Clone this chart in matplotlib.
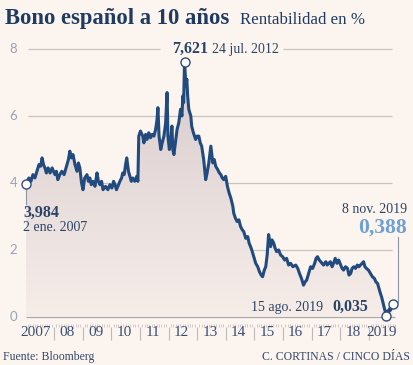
import numpy as np
import matplotlib
matplotlib.use("Agg")
import matplotlib.pyplot as plt
from matplotlib.colors import LinearSegmentedColormap

# ---------------- data (decimal years, yield %) ----------------
years = [2007.00, 2007.06, 2007.12, 2007.19, 2007.26, 2007.33, 2007.40, 2007.47, 2007.53,
         2007.58, 2007.63, 2007.68, 2007.73, 2007.79, 2007.86, 2007.93,
         2008.03, 2008.08, 2008.13, 2008.20, 2008.27, 2008.35, 2008.45, 2008.50,
         2008.55, 2008.60, 2008.66, 2008.73, 2008.80, 2008.85, 2008.90, 2008.96,
         2009.01, 2009.07, 2009.15, 2009.20, 2009.25, 2009.30, 2009.36, 2009.43,
         2009.50, 2009.55, 2009.60, 2009.66, 2009.71, 2009.80, 2009.88, 2009.95,
         2010.02, 2010.08, 2010.13, 2010.18, 2010.23, 2010.30, 2010.36, 2010.40,
         2010.45, 2010.50, 2010.54, 2010.60, 2010.65, 2010.70, 2010.75, 2010.82,
         2010.89, 2010.93, 2010.96, 2011.02, 2011.10, 2011.14, 2011.20, 2011.25,
         2011.31, 2011.37, 2011.43, 2011.49, 2011.55, 2011.60, 2011.63, 2011.67,
         2011.73, 2011.78, 2011.84, 2011.90, 2011.95, 2011.98, 2012.03, 2012.08,
         2012.12, 2012.15, 2012.19, 2012.24, 2012.30, 2012.36, 2012.42, 2012.47,
         2012.50, 2012.53, 2012.56, 2012.61, 2012.64, 2012.67, 2012.71, 2012.78,
         2012.81, 2012.87, 2012.95, 2013.00, 2013.06, 2013.11, 2013.16, 2013.23,
         2013.30, 2013.35, 2013.41, 2013.48, 2013.55, 2013.60, 2013.65, 2013.72,
         2013.78, 2013.83, 2013.88, 2013.93, 2014.00, 2014.06, 2014.12, 2014.18,
         2014.25, 2014.28, 2014.34, 2014.40, 2014.46, 2014.52, 2014.58, 2014.63,
         2014.70, 2014.77, 2014.82, 2014.87, 2014.93, 2014.98, 2015.05, 2015.12,
         2015.18, 2015.24, 2015.29, 2015.35, 2015.40, 2015.45, 2015.50, 2015.57,
         2015.62, 2015.68, 2015.73, 2015.78, 2015.85, 2015.92, 2015.99, 2016.06,
         2016.13, 2016.20, 2016.27, 2016.35, 2016.45, 2016.52, 2016.58, 2016.65,
         2016.72, 2016.78, 2016.83, 2016.90, 2016.97, 2017.04, 2017.11, 2017.16,
         2017.21, 2017.27, 2017.32, 2017.37, 2017.42, 2017.50, 2017.55, 2017.60,
         2017.66, 2017.72, 2017.77, 2017.83, 2017.89, 2017.95, 2018.02, 2018.07,
         2018.12, 2018.19, 2018.26, 2018.31, 2018.37, 2018.42, 2018.48, 2018.54,
         2018.60, 2018.66, 2018.71, 2018.77, 2018.82, 2018.87, 2018.92, 2018.99,
         2019.06, 2019.13, 2019.20, 2019.25, 2019.31, 2019.36, 2019.41, 2019.45,
         2019.48, 2019.52, 2019.55, 2019.58, 2019.62, 2019.66, 2019.69, 2019.73,
         2019.76, 2019.81, 2019.855]
values = [3.984, 4.05, 4.15, 4.05, 4.25, 4.15, 4.35, 4.55, 4.50,
          4.75, 4.55, 4.45, 4.30, 4.45, 4.30, 4.45,
          4.25, 4.35, 4.10, 4.25, 4.35, 4.25, 4.55, 4.70,
          4.95, 4.75, 4.85, 4.55, 4.35, 4.60, 4.45, 4.00,
          3.80, 4.15, 4.25, 4.05, 4.15, 3.95, 4.05, 3.90,
          4.30, 4.05, 3.95, 4.05, 3.80, 3.90, 3.80, 3.95,
          3.85, 4.05, 3.95, 3.80, 3.90, 4.05, 4.15, 4.30,
          4.25, 4.55, 4.75, 4.35, 4.20, 4.05, 4.15, 4.05,
          4.20, 4.05, 5.40, 5.55, 5.40, 5.20, 5.45, 5.30,
          5.50, 5.35, 5.45, 5.40, 5.60, 5.90, 6.25, 5.40,
          5.00, 5.20, 5.40, 5.80, 6.70, 5.40, 5.00, 5.30,
          5.70, 5.00, 4.85, 5.20, 5.60, 5.80, 6.20, 6.00,
          6.60, 6.40, 7.621, 6.90, 7.10, 6.60, 6.20, 6.00,
          5.70, 5.50, 5.30, 5.40, 5.40, 5.20, 5.10, 4.70,
          4.10, 4.30, 4.60, 5.10, 4.60, 4.70, 4.50, 4.40,
          4.30, 4.25, 4.15, 4.10, 4.20, 3.90, 3.70, 3.55,
          3.30, 3.10, 2.95, 2.85, 2.90, 2.70, 2.60, 2.55,
          2.35, 2.40, 2.20, 2.10, 1.95, 1.80, 1.60, 1.50,
          1.35, 1.25, 1.20, 1.40, 1.50, 1.85, 2.46, 2.10,
          2.30, 2.20, 2.05, 1.95, 2.00, 1.85, 1.80, 1.70,
          1.75, 1.55, 1.60, 1.50, 1.55, 1.45, 1.30, 1.15,
          0.95, 1.05, 1.10, 1.30, 1.50, 1.45, 1.60, 1.75,
          1.80, 1.70, 1.65, 1.60, 1.55, 1.65, 1.55, 1.60,
          1.65, 1.50, 1.60, 1.75, 1.60, 1.70, 1.55, 1.45,
          1.40, 1.50, 1.45, 1.25, 1.30, 1.45, 1.50, 1.45,
          1.55, 1.50, 1.55, 1.60, 1.65, 1.50, 1.45, 1.40,
          1.30, 1.20, 1.15, 1.05, 1.00, 0.85, 0.70, 0.60,
          0.50, 0.35, 0.25, 0.16, 0.035, 0.18, 0.10, 0.25,
          0.20, 0.30, 0.388]

year_labels = ["2007", "08", "09", "10", "11", "12", "13", "14", "15",
               "16", "17", "18", "2019"]
y_ticks = [0, 2, 4, 6, 8]

first_lbl = ("3,984", "2 ene. 2007")
peak_lbl = ("7,621", "24 jul. 2012")
min_lbl = ("0,035", "15 ago. 2019")
last_lbl = ("0,388", "8 nov. 2019")

# ---------------- style ----------------
BG = "#fcf4ee"
NAVY = "#1f3b62"
LINE = "#214a7e"
GRID = "#c9c3c3"
TICKC = "#96a4b8"
LIGHTBLUE = "#6f9fd3"
SERIF = ["Liberation Serif", "DejaVu Serif"]

W, H = 414, 365
fig = plt.figure(figsize=(W / 100, H / 100), dpi=100, facecolor=BG)

YEARPX = 28.6
x0px = 25.5
x1px = x0px + 13 * YEARPX
ypx_bot, ypx_top = 327.0, 39.0
ax = fig.add_axes([x0px / W, 1 - ypx_bot / H, (x1px - x0px) / W, (ypx_bot - ypx_top) / H])
ax.set_facecolor(BG)
ax.patch.set_alpha(0)
ax.set_xlim(2007, 2020)
ax.set_ylim(-0.3, 8.3)
for s in ax.spines.values():
    s.set_visible(False)

# gridlines
for yv in [2, 4, 6]:
    ax.hlines(yv, 2007.08, 2019.8, color=GRID, lw=0.9, zorder=1)
ax.hlines(8, 2007.08, 2011.7, color=GRID, lw=0.9, zorder=1)
ax.hlines(8, 2016.0, 2019.8, color=GRID, lw=0.9, zorder=1)
ax.hlines(0, 2007.0, 2019.92, color="#a9a6aa", lw=0.9, zorder=1)

# gradient fill under the line
xs = np.array(years)
ys = np.array(values)
poly = ax.fill_between(xs, ys, 0, color="none", lw=0)
cmap = LinearSegmentedColormap.from_list("g", ["#f6ede9", "#d6cacb"])
grad = np.linspace(0, 1, 256).reshape(-1, 1)
im = ax.imshow(grad, extent=[2007, 2020, 0, 8], origin="lower", cmap=cmap,
               aspect="auto", zorder=2)
im.set_clip_path(poly.get_paths()[0], transform=ax.transData)

ax.plot(xs, ys, color=LINE, lw=2.2, zorder=4, solid_joinstyle="round", clip_on=False)

# ticks
ax.set_yticks([])
ax.set_xticks(np.arange(2008, 2020), minor=False)
ax.set_xticklabels([])
ax.tick_params(axis="x", which="major", direction="out", length=9, width=0.8,
               color="#bdb9bb")
months = [2007 + i / 12 for i in range(1, 12 * 13) if i % 12 != 0]
ax.set_xticks(months, minor=True)
ax.tick_params(axis="x", which="minor", direction="in", length=2.5, width=0.5,
               color="#bdb9bb")

for i, lab in enumerate(year_labels):
    xoff = -0.1 if i == 0 else 0.0
    ax.text(2007.45 + i + xoff, -0.3 - 6 / 33.5, lab, ha="center", va="center",
            fontsize=11, family=SERIF, color="#3a5072")
for yv in y_ticks:
    ax.text(2007 - 12 / YEARPX, yv, str(yv), ha="center", va="center",
            fontsize=9.5, family=["Lato", "DejaVu Sans"], color=TICKC)

# markers
mk = dict(marker="o", ms=6.5, mfc="white", mec="#2f4f7a", mew=1.0, zorder=6,
          ls="none", clip_on=False)
ax.plot([years[0]], [values[0]], **mk)
ipk = values.index(max(values))
ax.plot([years[ipk]], [values[ipk]], **mk)
imin = values.index(min(values))
ax.plot([years[imin]], [values[imin]], **mk)
ax.plot([years[-1]], [values[-1]], **mk)

# connectors
ax.plot([years[0], years[0]], [values[0] - 0.12, values[0] - 0.6], color="#8b97a8",
        lw=0.8, zorder=3, clip_on=False)
xc = years[-1] + 0.17
ax.plot([xc, xc], [values[-1] + 0.05, 2.4], color="#8b97a8", lw=0.8, zorder=3,
        clip_on=False)

def px(xp, yp):
    return xp / W, 1 - yp / H

# titles
fig.text(*px(5, 24), "Bono español a 10 años", fontsize=16.3, fontweight="bold",
         family=SERIF, color=NAVY, va="baseline")
fig.text(*px(240, 24), "Rentabilidad en %", fontsize=12.2, family=SERIF,
         color=NAVY, va="baseline")

# annotations
TXT = "#2a4468"
fig.text(*px(23, 217), first_lbl[0], fontsize=11.5, fontweight="bold", family=SERIF,
         color=TXT, va="baseline")
fig.text(*px(23, 231), first_lbl[1], fontsize=10, family=SERIF,
         color=TXT, va="baseline")
fig.text(*px(208, 53), peak_lbl[0], fontsize=11.5, fontweight="bold", family=SERIF,
         color=TXT, va="baseline", ha="right")
fig.text(*px(212, 53), peak_lbl[1], fontsize=10, family=SERIF,
         color=TXT, va="baseline")
fig.text(*px(323, 311), min_lbl[1], fontsize=10, family=SERIF,
         color=TXT, va="baseline", ha="right")
fig.text(*px(368, 311), min_lbl[0], fontsize=11.5, fontweight="bold", family=SERIF,
         color=TXT, va="baseline", ha="right")
fig.text(*px(407, 213), last_lbl[1], fontsize=10, family=SERIF,
         color=TXT, va="baseline", ha="right")
fig.text(*px(407, 233), last_lbl[0], fontsize=15.5, fontweight="bold", family=SERIF,
         color=LIGHTBLUE, va="baseline", ha="right")

# footer
fig.text(*px(3, 360), "Fuente: Bloomberg", fontsize=8.5, family=SERIF,
         color="#34496a", va="baseline")
fig.text(*px(410, 360), "C. CORTINAS / CINCO DÍAS", fontsize=8.5, family=SERIF,
         color="#34496a", va="baseline", ha="right")

fig.savefig("out.png", dpi=100, facecolor=BG)
